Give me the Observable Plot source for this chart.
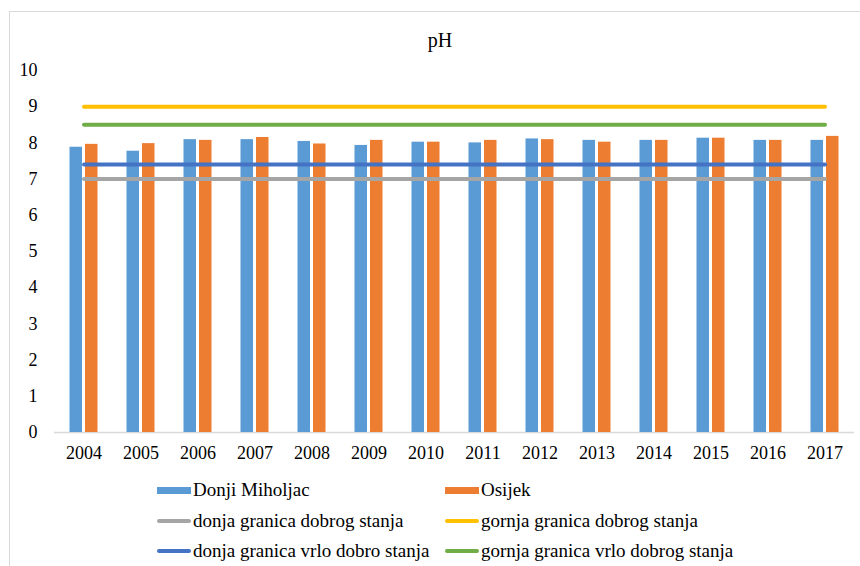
<!DOCTYPE html>
<html><head><meta charset="utf-8">
<script src="https://cdn.jsdelivr.net/npm/d3@7"></script>
<script src="https://cdn.jsdelivr.net/npm/@observablehq/plot@0.6"></script>
<style>
body{margin:0;background:#fff;}
#wrap{position:relative;width:860px;height:566px;overflow:hidden;font-family:"Liberation Serif","Times New Roman",serif;color:#000;}
#frame{position:absolute;left:9px;top:11px;width:900px;height:600px;border:1px solid #d9d9d9;box-sizing:border-box;pointer-events:none;}
#title{position:absolute;left:0;width:880px;top:29px;text-align:center;font-size:20px;line-height:23px;}
#chart{position:absolute;left:0;top:0;}
.leg{position:absolute;font-family:"Liberation Serif","Times New Roman",serif;font-size:19px;display:flex;align-items:center;white-space:nowrap;height:20px;line-height:20px;}
.sw{display:inline-block;width:34px;margin-right:2px;}
</style></head>
<body>
<div id="wrap">
  <div id="chart"></div>
  <div id="title">pH</div>
  <div id="legend"></div>
  <div id="frame"></div>
</div>
<script>
const years = ["2004","2005","2006","2007","2008","2009","2010","2011","2012","2013","2014","2015","2016","2017"];
const donjiMiholjac = [7.88,7.77,8.09,8.09,8.04,7.93,8.02,8.0,8.11,8.07,8.07,8.13,8.07,8.07];
const osijek =        [7.96,7.98,8.07,8.15,7.97,8.07,8.02,8.07,8.09,8.02,8.07,8.13,8.07,8.18];
const donjaDobrog =      [7,7,7,7,7,7,7,7,7,7,7,7,7,7];
const gornjaDobrog =     [9,9,9,9,9,9,9,9,9,9,9,9,9,9];
const donjaVrloDobro =   [7.4,7.4,7.4,7.4,7.4,7.4,7.4,7.4,7.4,7.4,7.4,7.4,7.4,7.4];
const gornjaVrloDobrog = [8.5,8.5,8.5,8.5,8.5,8.5,8.5,8.5,8.5,8.5,8.5,8.5,8.5,8.5];
const yTicks = [0,1,2,3,4,5,6,7,8,9,10];

const barSeries = [
  {name:"Donji Miholjac", values: donjiMiholjac, color:"#5b9bd5"},
  {name:"Osijek", values: osijek, color:"#ed7d31"}
];
const lineSeries = [
  {name:"donja granica dobrog stanja", values: donjaDobrog, color:"#a5a5a5"},
  {name:"gornja granica dobrog stanja", values: gornjaDobrog, color:"#ffc000"},
  {name:"donja granica vrlo dobro stanja", values: donjaVrloDobro, color:"#4472c4"},
  {name:"gornja granica vrlo dobrog stanja", values: gornjaVrloDobrog, color:"#70ad47"}
];

const rows = (s) => years.map((y,i) => ({year:y, value:s.values[i]}));

const marks = [
  Plot.ruleY([0], {stroke:"#d9d9d9", strokeWidth:1.5}),
  Plot.barY(rows(barSeries[0]), {x:"year", y:"value", fill:barSeries[0].color, insetLeft:14.5, insetRight:30}),
  Plot.barY(rows(barSeries[1]), {x:"year", y:"value", fill:barSeries[1].color, insetLeft:30, insetRight:14.5}),
  ...lineSeries.map(s => Plot.lineY(rows(s), {x:"year", y:"value", stroke:s.color, strokeWidth:4, strokeLinecap:"round"}))
];

const chart = Plot.plot({
  width: 860,
  height: 470,
  marginLeft: 54,
  marginRight: 6,
  marginTop: 70,
  marginBottom: 38,
  style: {background:"transparent", fontFamily:"'Liberation Serif','Times New Roman',serif", fontSize:"18px", color:"#000"},
  x: {type:"band", domain: years, padding:0, label:null, tickSize:0, tickPadding:14},
  y: {domain:[0,10], ticks: yTicks, label:null, tickSize:0, tickPadding:17},
  marks
});
document.getElementById("chart").appendChild(chart);

// legend
const legend = document.getElementById("legend");
const legendItems = [
  {s:barSeries[0], kind:"bar", left:157, top:490},
  {s:barSeries[1], kind:"bar", left:445, top:490},
  {s:lineSeries[0], kind:"line", left:157, top:521},
  {s:lineSeries[1], kind:"line", left:445, top:521},
  {s:lineSeries[2], kind:"line", left:157, top:551},
  {s:lineSeries[3], kind:"line", left:445, top:551}
];
legendItems.forEach(it => {
  const d = document.createElement("div");
  d.className = "leg";
  d.style.left = it.left + "px";
  d.style.top = (it.top - 10) + "px";
  const sw = document.createElement("span");
  sw.className = "sw";
  sw.style.background = it.s.color;
  sw.style.height = it.kind === "bar" ? "7px" : "4px";
  if (it.kind === "line") sw.style.borderRadius = "2px";
  d.appendChild(sw);
  d.appendChild(document.createTextNode(it.s.name));
  legend.appendChild(d);
});
</script>
</body></html>
